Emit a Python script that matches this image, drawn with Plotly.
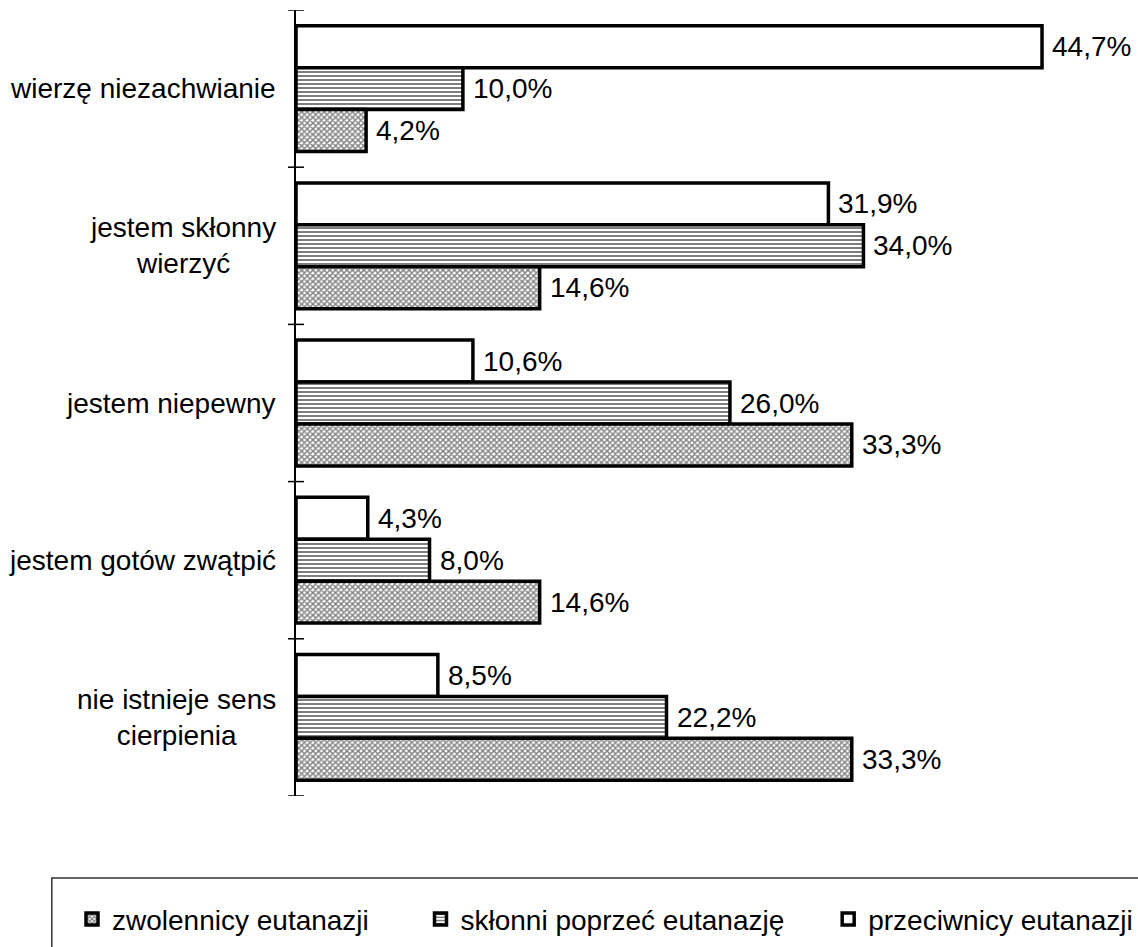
import plotly.graph_objects as go

# Attitudes towards the meaning of suffering, by stance on euthanasia (%)
categories = [
    "wierzę niezachwianie",
    "jestem skłonny<br>wierzyć",
    "jestem niepewny",
    "jestem gotów zwątpić",
    "nie istnieje sens<br>cierpienia",
]
przeciwnicy = [44.7, 31.9, 10.6, 4.3, 8.5]
sklonni = [10.0, 34.0, 26.0, 8.0, 22.2]
zwolennicy = [4.2, 14.6, 33.3, 14.6, 33.3]

series_names = ["przeciwnicy eutanazji", "skłonni poprzeć eutanazję", "zwolennicy eutanazji"]
series_values = [przeciwnicy, sklonni, zwolennicy]
patterns = [
    dict(shape=""),
    dict(shape="-", size=4, solidity=0.5, fgcolor="black", bgcolor="white", fillmode="overlay"),
    dict(shape="x", size=4, solidity=0.6, fgcolor="black", bgcolor="white", fillmode="overlay"),
]
ranks = [3, 2, 1]
# extra room after each legend entry
legend_pad = [0, 5, 6]

FONT = "Liberation Sans, Arial, sans-serif"
FS = 28
NBSP = "\u00a0"

fig = go.Figure()
for name, vals, pat, rank, pad in zip(series_names, series_values, patterns, ranks, legend_pad):
    fig.add_trace(go.Bar(
        y=list(range(len(categories))),
        x=vals,
        orientation="h",
        name=name + NBSP * pad,
        legendrank=rank,
        marker=dict(color="white", line=dict(color="black", width=3.5), pattern=pat),
        hoverinfo="skip",
    ))

# value labels just past each bar end
n = len(series_values)
for i, vals in enumerate(series_values):
    for j, v in enumerate(vals):
        offset = (i - (n - 1) / 2) * 0.8 / n
        fig.add_annotation(
            x=v, y=j + offset, xref="x", yref="y",
            text=f"{v:.1f}%".replace(".", ","),
            showarrow=False, xanchor="left", yanchor="middle",
            xshift=8, font=dict(family=FONT, size=FS, color="black"),
        )

# category labels, centred line by line
for j, cat in enumerate(categories):
    fig.add_annotation(
        x=0, y=j, xref="paper", yref="y",
        text=cat, align="center", showarrow=False,
        xanchor="right", yanchor="middle", xshift=-18,
        font=dict(family=FONT, size=FS, color="black"),
    )

# boundary ticks crossing the vertical axis
for k in range(len(categories) + 1):
    fig.add_shape(
        type="line", xref="paper", yref="y",
        xsizemode="pixel", xanchor=0, x0=-8, x1=8,
        y0=k - 0.5, y1=k - 0.5,
        line=dict(color="black", width=1.5),
    )

# legend frame
fig.add_shape(
    type="rect", xref="paper", yref="paper",
    x0=-0.29, x1=1.2, y0=-0.5, y1=-0.1043,
    line=dict(color="#333333", width=1.5), fillcolor="rgba(0,0,0,0)",
)

fig.update_layout(
    width=1138, height=947,
    margin=dict(l=296, r=0, t=10, b=151),
    paper_bgcolor="white", plot_bgcolor="white",
    barmode="group", bargap=0.2, bargroupgap=0,
    font=dict(family=FONT, size=FS, color="black"),
    showlegend=True,
    legend=dict(
        orientation="h", x=-0.265, xanchor="left", y=-0.125, yanchor="top",
        font=dict(family=FONT, size=FS, color="black"),
        bgcolor="rgba(0,0,0,0)",
    ),
    xaxis=dict(range=[0, 50.45], visible=False, fixedrange=True),
    yaxis=dict(
        range=[len(categories) - 0.5, -0.5],
        showline=True, linecolor="black", linewidth=2,
        ticks="", showticklabels=False, showgrid=False, zeroline=False,
    ),
)

fig.write_html("out.html")
